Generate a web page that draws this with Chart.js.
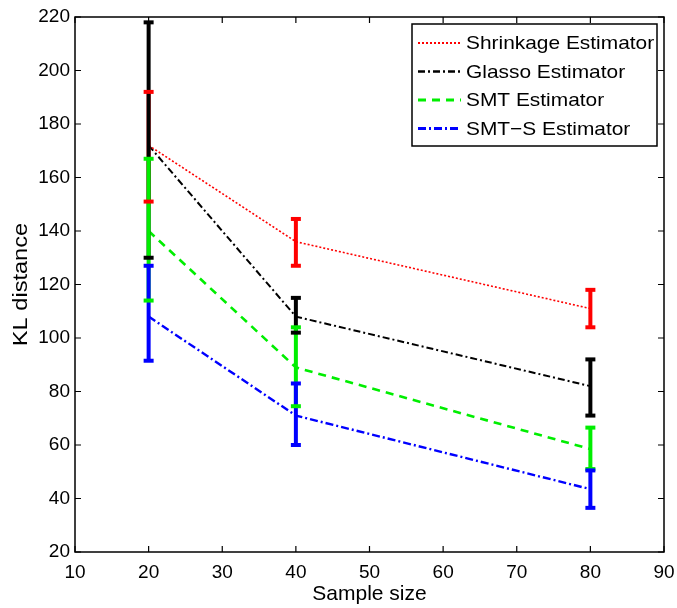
<!DOCTYPE html>
<html>
<head>
<meta charset="utf-8">
<script src="https://cdn.jsdelivr.net/npm/chart.js@4/dist/chart.umd.min.js"></script>
<style>
  html, body { margin: 0; padding: 0; background: #fff; }
  #wrap { width: 677px; height: 608px; }
</style>
</head>
<body>
<div id="wrap"><canvas id="c" width="677" height="608"></canvas></div>
<script>
// ---- data ----
const sampleSizes = [20, 40, 80];
const seriesNames = ['Shrinkage Estimator', 'Glasso Estimator', 'SMT Estimator', 'SMT\u2212S Estimator'];
const xTitle = 'Sample size';
const yTitle = 'KL distance';

const shrinkMean = [172, 136, 111];
const shrinkLow  = [151, 127, 104];
const shrinkHigh = [192, 144.5, 118];

const glassoMean = [172, 108, 82];
const glassoLow  = [130, 102, 71];
const glassoHigh = [218, 115, 92];

const smtMean = [140, 89, 58.5];
const smtLow  = [114, 74.5, 51];
const smtHigh = [167, 104, 66.5];

const smtsMean = [108, 71, 43.5];
const smtsLow  = [91.5, 60, 36.5];
const smtsHigh = [127, 83, 50.5];

const xMin = 10, xMax = 90, xStep = 10;
const yMin = 20, yMax = 220, yStep = 20;

// ---- styles ----
const FONT = '"Liberation Sans", Arial, Helvetica, sans-serif';
const styles = [
  { color: '#ff0000', width: 1.6, dash: [2, 2] },
  { color: '#000000', width: 2,   dash: [7, 3, 2, 3] },
  { color: '#00ee00', width: 2.6, dash: [8, 6] },
  { color: '#0000ff', width: 2.4, dash: [8, 3, 2, 3] }
];

function pts(means) { return sampleSizes.map((x, i) => ({ x: x, y: means[i] })); }
const means = [shrinkMean, glassoMean, smtMean, smtsMean];
const lows  = [shrinkLow, glassoLow, smtLow, smtsLow];
const highs = [shrinkHigh, glassoHigh, smtHigh, smtsHigh];

const datasets = means.map((m, k) => ({
  label: seriesNames[k],
  data: pts(m),
  errLow: lows[k],
  errHigh: highs[k],
  borderColor: styles[k].color,
  borderWidth: styles[k].width,
  borderDash: styles[k].dash,
  pointRadius: 0,
  fill: false,
  tension: 0
}));

// error bars drawn through the scales
const errorBarPlugin = {
  id: 'errbars',
  afterDatasetsDraw(chart) {
    const ctx = chart.ctx, xs = chart.scales.x, ys = chart.scales.y;
    ctx.save();
    ctx.setLineDash([]);
    chart.data.datasets.forEach(ds => {
      ctx.strokeStyle = ds.borderColor;
      ctx.lineWidth = 4;
      ds.data.forEach((p, i) => {
        const px = xs.getPixelForValue(p.x);
        ctx.beginPath();
        ctx.moveTo(px, ys.getPixelForValue(ds.errLow[i]));
        ctx.lineTo(px, ys.getPixelForValue(ds.errHigh[i]));
        ctx.stroke();
      });
    });
    chart.data.datasets.forEach(ds => {
      ctx.strokeStyle = ds.borderColor;
      ctx.lineWidth = 4;
      ds.data.forEach((p, i) => {
        const px = xs.getPixelForValue(p.x);
        [ds.errLow[i], ds.errHigh[i]].forEach(v => {
          const py = ys.getPixelForValue(v);
          ctx.beginPath();
          ctx.moveTo(px - 5, py);
          ctx.lineTo(px + 5, py);
          ctx.stroke();
        });
      });
    });
    ctx.restore();
  }
};

// box frame + inward ticks (MATLAB style) + y title
const framePlugin = {
  id: 'frame',
  afterDraw(chart) {
    const ctx = chart.ctx, a = chart.chartArea, xs = chart.scales.x, ys = chart.scales.y;
    ctx.save();
    ctx.setLineDash([]);
    ctx.strokeStyle = '#000';
    ctx.lineWidth = 1.5;
    ctx.strokeRect(a.left, a.top, a.right - a.left, a.bottom - a.top);
    ctx.lineWidth = 1.2;
    const L = 6;
    xs.ticks.forEach(t => {
      const px = xs.getPixelForValue(t.value);
      ctx.beginPath();
      ctx.moveTo(px, a.bottom); ctx.lineTo(px, a.bottom - L);
      ctx.moveTo(px, a.top); ctx.lineTo(px, a.top + L);
      ctx.stroke();
    });
    ys.ticks.forEach(t => {
      const py = ys.getPixelForValue(t.value);
      ctx.beginPath();
      ctx.moveTo(a.left, py); ctx.lineTo(a.left + L, py);
      ctx.moveTo(a.right, py); ctx.lineTo(a.right - L, py);
      ctx.stroke();
    });
    // y axis title (rotated, slightly stretched like the source)
    ctx.translate(21, (a.top + a.bottom) / 2);
    ctx.rotate(-Math.PI / 2);
    ctx.scale(1.18, 1);
    ctx.fillStyle = '#000';
    ctx.font = '20px ' + FONT;
    ctx.textAlign = 'center';
    ctx.textBaseline = 'middle';
    ctx.fillText(yTitle, 0, 0);
    ctx.restore();
  }
};

// legend drawn inside plot, top-right
const legendPlugin = {
  id: 'insideLegend',
  afterDraw(chart) {
    const ctx = chart.ctx;
    const bx = 412, by = 24, bw = 245, bh = 122;
    ctx.save();
    ctx.fillStyle = '#fff';
    ctx.fillRect(bx, by, bw, bh);
    ctx.strokeStyle = '#000';
    ctx.lineWidth = 1.5;
    ctx.setLineDash([]);
    ctx.strokeRect(bx, by, bw, bh);
    const rows = [43, 71.5, 100, 128.5];
    chart.data.datasets.forEach((ds, k) => {
      const y = rows[k];
      ctx.strokeStyle = ds.borderColor;
      ctx.lineWidth = ds.borderWidth + 0.6;
      ctx.setLineDash(ds.borderDash);
      ctx.beginPath();
      ctx.moveTo(418, y); ctx.lineTo(461, y);
      ctx.stroke();
      ctx.setLineDash([]);
      ctx.save();
      ctx.translate(466, y + 1);
      ctx.scale(1.1, 1);
      ctx.fillStyle = '#000';
      ctx.font = '19px ' + FONT;
      ctx.textBaseline = 'middle';
      ctx.textAlign = 'left';
      ctx.fillText(ds.label, 0, 0);
      ctx.restore();
    });
    ctx.restore();
  }
};

new Chart(document.getElementById('c'), {
  type: 'line',
  data: { datasets: datasets },
  options: {
    responsive: false,
    animation: false,
    devicePixelRatio: 1,
    layout: { padding: { top: 17, right: 13, left: 0, bottom: 0 } },
    plugins: { legend: { display: false }, tooltip: { enabled: false } },
    scales: {
      x: {
        type: 'linear', min: xMin, max: xMax,
        ticks: { stepSize: xStep, color: '#000', font: { size: 19, family: FONT }, padding: 9, maxRotation: 0, autoSkip: false },
        grid: { display: false, drawTicks: false },
        border: { display: false },
        title: { display: true, text: xTitle, color: '#000', font: { size: 21, family: FONT }, padding: { top: 0, bottom: 1 } },
        afterFit(s) { s.height = 56; s.paddingRight = 0; s.paddingLeft = 0; }
      },
      y: {
        type: 'linear', min: yMin, max: yMax,
        ticks: { stepSize: yStep, color: '#000', font: { size: 19, family: FONT }, padding: 5, autoSkip: false },
        grid: { display: false, drawTicks: false },
        border: { display: false },
        title: { display: false },
        afterFit(s) { s.width = 75; }
      }
    }
  },
  plugins: [errorBarPlugin, framePlugin, legendPlugin]
});
</script>
</body>
</html>
